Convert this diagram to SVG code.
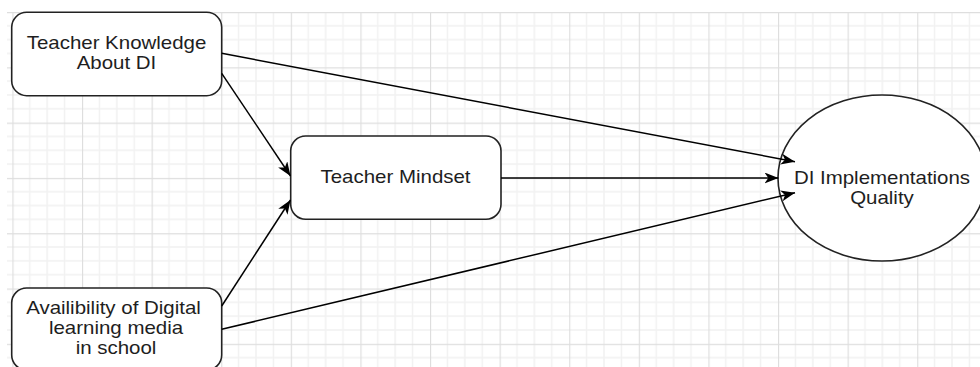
<svg xmlns="http://www.w3.org/2000/svg" width="980" height="367" viewBox="0 0 980 367">
  <defs>
    <pattern id="grid" patternUnits="userSpaceOnUse" x="12.4" y="12" width="69.6" height="55.3">
      <g stroke="#f1f1f1" stroke-width="1.5" fill="none">
        <line x1="17.4" y1="0" x2="17.4" y2="55.3"/>
        <line x1="34.8" y1="0" x2="34.8" y2="55.3"/>
        <line x1="52.2" y1="0" x2="52.2" y2="55.3"/>
        <line x1="0" y1="13.83" x2="69.6" y2="13.83"/>
        <line x1="0" y1="27.65" x2="69.6" y2="27.65"/>
        <line x1="0" y1="41.48" x2="69.6" y2="41.48"/>
      </g>
      <g stroke="#dedede" stroke-width="1.3" fill="none">
        <line x1="0.5" y1="0" x2="0.5" y2="55.3"/>
        <line x1="0" y1="0.5" x2="69.6" y2="0.5"/>
      </g>
    </pattern>
    <marker id="arrow" markerUnits="userSpaceOnUse" markerWidth="15" markerHeight="12" refX="14" refY="5.5" orient="auto">
      <path d="M0,0 L14,5.5 L0,11 L3.8,5.5 Z" fill="#000"/>
    </marker>
    <style>
      .box { fill: #fff; stroke: #222; stroke-width: 1.6; }
      .lbl { font-family: "Liberation Sans", Arial, sans-serif; font-size: 18.6px; fill: #1e1e1e; text-anchor: middle; }
      .edge { stroke: #000; stroke-width: 1.5; fill: none; marker-end: url(#arrow); }
    </style>
  </defs>
  <rect width="980" height="367" fill="#fff"/>
  <rect x="7" y="12" width="973" height="355" fill="url(#grid)"/>

  <g id="node-knowledge">
    <rect class="box" x="11.7" y="12.3" width="210" height="83.4" rx="15" ry="15"/>
    <text class="lbl" transform="translate(116.5 49.3) scale(1.1 1)">Teacher Knowledge</text>
    <text class="lbl" transform="translate(116.5 69.3) scale(1.1 1)">About DI</text>
  </g>

  <g id="node-mindset">
    <rect class="box" x="290.7" y="136" width="210.3" height="83.3" rx="15" ry="15"/>
    <text class="lbl" transform="translate(395.5 183.3) scale(1.1 1)">Teacher Mindset</text>
  </g>

  <g id="node-availability">
    <rect class="box" x="11.7" y="288" width="210" height="82" rx="15" ry="15"/>
    <text class="lbl" transform="translate(113.5 314.3) scale(1.1 1)">Availibility of Digital</text>
    <text class="lbl" transform="translate(116 334.3) scale(1.1 1)">learning media</text>
    <text class="lbl" transform="translate(116 354.3) scale(1.1 1)">in school</text>
  </g>

  <g id="node-quality">
    <ellipse class="box" cx="882" cy="178" rx="104" ry="83"/>
    <text class="lbl" transform="translate(882 184) scale(1.1 1)">DI Implementations</text>
    <text class="lbl" transform="translate(882 204) scale(1.1 1)">Quality</text>
  </g>

  <g id="connectors">
    <line class="edge" x1="221.7" y1="53.3" x2="795" y2="161.7"/>
    <line class="edge" x1="221.7" y1="73.3" x2="290.5" y2="176"/>
    <line class="edge" x1="221.7" y1="306" x2="290.5" y2="200"/>
    <line class="edge" x1="221.7" y1="329.3" x2="795" y2="192.7"/>
    <line class="edge" x1="501" y1="178" x2="778.5" y2="178"/>
  </g>
</svg>
